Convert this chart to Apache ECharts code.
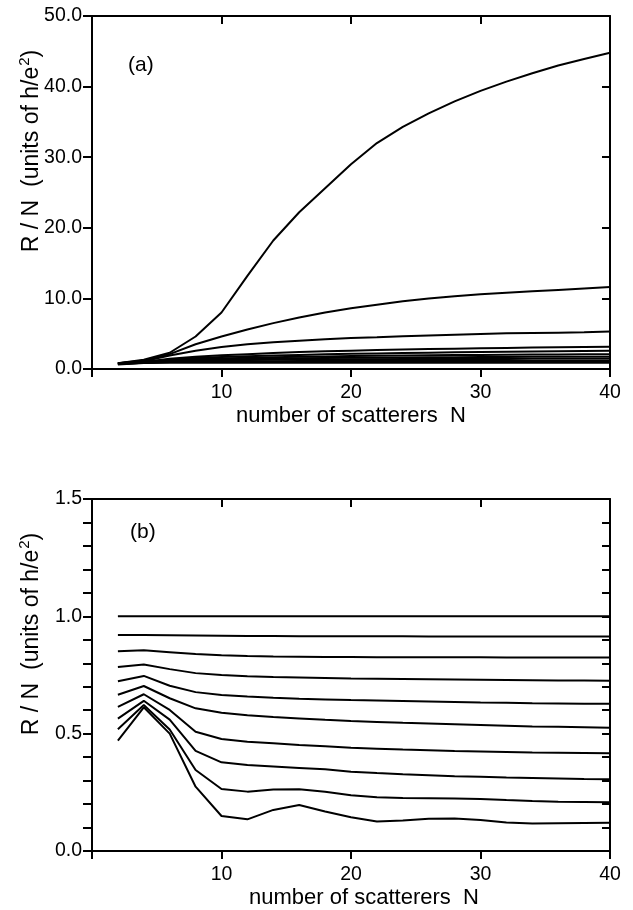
<!DOCTYPE html>
<html>
<head>
<meta charset="utf-8">
<script src="https://cdn.jsdelivr.net/npm/echarts@6/dist/echarts.min.js"></script>
<style>
  html, body { margin: 0; padding: 0; background: #fff; }
  #chart { width: 633px; height: 910px; }
</style>
</head>
<body>
<div id="chart"></div>
<script>
// number of scatterers N (both panels)
const nValues = [2, 4, 6, 8, 10, 12, 14, 16, 18, 20, 22, 24, 26, 28, 30, 32, 34, 36, 38, 40]
const xTicks = [10, 20, 30, 40]

// panel (a): R/N in units of h/e^2
const topCurves = [
  [0.8, 1.3, 2.3, 4.6, 8.0, 13.2, 18.2, 22.2, 25.6, 29.0, 32.0, 34.3, 36.2, 37.9, 39.4, 40.7, 41.9, 43.0, 43.9, 44.8],
  [0.8, 1.2, 2.1, 3.5, 4.6, 5.6, 6.5, 7.3, 8.0, 8.6, 9.1, 9.6, 10.0, 10.3, 10.6, 10.8, 11.0, 11.2, 11.4, 11.6],
  [0.8, 1.1, 1.9, 2.6, 3.1, 3.5, 3.8, 4.0, 4.2, 4.4, 4.5, 4.65, 4.75, 4.85, 4.95, 5.05, 5.1, 5.15, 5.2, 5.3],
  [0.8, 1.0, 1.45, 1.75, 1.95, 2.1, 2.25, 2.4, 2.5, 2.6, 2.68, 2.75, 2.82, 2.88, 2.94, 2.99, 3.04, 3.08, 3.12, 3.15],
  [0.8, 1.0, 1.35, 1.55, 1.7, 1.82, 1.92, 2.0, 2.08, 2.15, 2.2, 2.26, 2.31, 2.36, 2.4, 2.44, 2.48, 2.52, 2.56, 2.6],
  [0.75, 0.95, 1.25, 1.4, 1.5, 1.6, 1.67, 1.73, 1.78, 1.83, 1.87, 1.9, 1.94, 1.97, 2.0, 2.03, 2.05, 2.07, 2.09, 2.1],
  [0.75, 0.95, 1.15, 1.27, 1.35, 1.42, 1.47, 1.52, 1.55, 1.58, 1.61, 1.63, 1.65, 1.67, 1.69, 1.7, 1.72, 1.73, 1.74, 1.75],
  [0.7, 0.9, 1.05, 1.15, 1.22, 1.27, 1.31, 1.34, 1.36, 1.38, 1.39, 1.4, 1.41, 1.42, 1.43, 1.43, 1.44, 1.44, 1.45, 1.45],
  [0.7, 0.88, 0.98, 1.04, 1.08, 1.1, 1.11, 1.12, 1.13, 1.13, 1.14, 1.14, 1.14, 1.15, 1.15, 1.15, 1.15, 1.15, 1.15, 1.15],
  [0.65, 0.85, 0.88, 0.89, 0.9, 0.9, 0.9, 0.9, 0.9, 0.9, 0.9, 0.9, 0.9, 0.9, 0.9, 0.9, 0.9, 0.9, 0.9, 0.9]
]

// panel (b)
const bottomCurves = [
  [1.0, 1.0, 1.0, 1.0, 1.0, 1.0, 1.0, 1.0, 1.0, 1.0, 1.0, 1.0, 1.0, 1.0, 1.0, 1.0, 1.0, 1.0, 1.0, 1.0],
  [0.92, 0.92, 0.919, 0.918, 0.917, 0.916, 0.916, 0.915, 0.915, 0.915, 0.915, 0.915, 0.914, 0.914, 0.914, 0.914, 0.914, 0.914, 0.914, 0.914],
  [0.851, 0.855, 0.847, 0.839, 0.834, 0.831, 0.829, 0.828, 0.827, 0.827, 0.826, 0.826, 0.826, 0.826, 0.826, 0.825, 0.825, 0.825, 0.825, 0.825],
  [0.784, 0.795, 0.775, 0.758, 0.75, 0.745, 0.741, 0.739, 0.737, 0.735, 0.734, 0.733, 0.732, 0.731, 0.73, 0.729, 0.728, 0.727, 0.727, 0.726],
  [0.723, 0.746, 0.704, 0.677, 0.665, 0.658, 0.653, 0.649, 0.646, 0.643, 0.641, 0.639, 0.637, 0.635, 0.633, 0.632, 0.63, 0.629, 0.628, 0.627],
  [0.666, 0.703, 0.651, 0.608, 0.589, 0.578, 0.571, 0.565, 0.559, 0.554, 0.55, 0.546, 0.543, 0.54, 0.537, 0.534, 0.531, 0.529, 0.527, 0.525],
  [0.614, 0.668, 0.601, 0.508, 0.477, 0.466, 0.459, 0.452, 0.446, 0.44, 0.436, 0.432, 0.429, 0.426, 0.424, 0.422, 0.42, 0.419, 0.418, 0.417],
  [0.564, 0.64, 0.56, 0.427, 0.378, 0.366, 0.36, 0.354, 0.348, 0.338, 0.332, 0.327, 0.323, 0.319, 0.316, 0.313, 0.311, 0.309, 0.307, 0.306],
  [0.519, 0.622, 0.518, 0.345, 0.264, 0.253, 0.262, 0.263, 0.252, 0.238, 0.229, 0.226, 0.225, 0.224, 0.222, 0.217, 0.213, 0.21, 0.209, 0.208],
  [0.47, 0.612, 0.5, 0.274, 0.149, 0.135, 0.175, 0.196, 0.168, 0.144, 0.126, 0.13, 0.137, 0.138, 0.132, 0.121, 0.117, 0.118, 0.119, 0.12]
]

const FONT = '"Liberation Sans", Arial, Helvetica, sans-serif'
const chart = echarts.init(document.getElementById('chart'))

const frameLine = { show: true, onZero: false, lineStyle: { color: '#000', width: 2 } }
const tickStyle = { color: '#000', width: 2 }

// bottom x axis with labels + top x axis with inner ticks only
const xAxisPair = (grid, padLeft) => [
  {
    gridIndex: grid, type: 'value', position: 'bottom',
    min: 0, max: 40, interval: 10,
    axisLine: frameLine,
    axisTick: { show: true, inside: false, length: 8, lineStyle: tickStyle },
    axisLabel: {
      margin: 14, color: '#000', fontSize: 19.5, fontFamily: FONT,
      formatter: v => xTicks.includes(v) ? String(v) : ''
    },
    splitLine: { show: false },
    name: 'number of scatterers  N', nameLocation: 'middle', nameGap: 36,
    nameTextStyle: { color: '#000', fontSize: 22, fontFamily: FONT, padding: [0, 0, 0, padLeft] }
  },
  {
    gridIndex: grid, type: 'value', position: 'top',
    min: 0, max: 40, interval: 10,
    axisLine: frameLine,
    axisTick: { show: true, inside: true, length: 8, lineStyle: tickStyle },
    axisLabel: { show: false },
    splitLine: { show: false }
  }
]

const yAxisPair = (grid, max, interval, fmt) => [
  {
    gridIndex: grid, type: 'value', position: 'left',
    min: 0, max: max, interval: interval,
    axisLine: frameLine,
    axisTick: { show: true, inside: false, length: 9, lineStyle: tickStyle },
    axisLabel: { margin: 10, color: '#000', fontSize: 19.5, fontFamily: FONT, formatter: fmt },
    splitLine: { show: false }
  },
  {
    gridIndex: grid, type: 'value', position: 'right',
    min: 0, max: max, interval: interval,
    axisLine: frameLine,
    axisTick: { show: true, inside: true, length: 8, lineStyle: tickStyle },
    axisLabel: { show: false },
    splitLine: { show: false }
  }
]

const halfStep = v => Math.abs(v * 2 - Math.round(v * 2)) < 1e-6 ? v.toFixed(1) : ''

const makeSeries = (curves, xi, yi) => curves.map(vals => ({
  type: 'line',
  xAxisIndex: xi, yAxisIndex: yi,
  data: nValues.map((n, i) => [n, vals[i]]),
  symbol: 'none',
  smooth: false,
  lineStyle: { color: '#000', width: 2 },
  silent: true
}))

const yTitle = (cy) => ({
  type: 'text', x: 32, y: cy, rotation: Math.PI / 2,
  style: {
    text: '{a|R / N  (units of h/e}{s|2}{a|)}',
    fill: '#000', align: 'center', verticalAlign: 'middle',
    rich: {
      a: { fontSize: 23, fontFamily: FONT, lineHeight: 30, fill: '#000' },
      s: { fontSize: 15, fontFamily: FONT, verticalAlign: 'top', lineHeight: 16, padding: [0, 0, 0, 1], fill: '#000' }
    }
  }
})

const option = {
  animation: false,
  backgroundColor: '#fff',
  grid: [
    { left: 92, top: 16, width: 518, height: 353, outerBoundsMode: 'none' },
    { left: 92, top: 499, width: 518, height: 352, outerBoundsMode: 'none' }
  ],
  xAxis: [...xAxisPair(0, 0), ...xAxisPair(1, 26)],
  yAxis: [
    ...yAxisPair(0, 50, 10, v => v.toFixed(1)),
    ...yAxisPair(1, 1.5, 0.1, halfStep)
  ],
  graphic: [
    yTitle(151),
    yTitle(634),
    { type: 'text', x: 128, y: 65, style: { text: '(a)', fill: '#000', font: '21px ' + FONT, verticalAlign: 'middle' } },
    { type: 'text', x: 130, y: 532, style: { text: '(b)', fill: '#000', font: '21px ' + FONT, verticalAlign: 'middle' } }
  ],
  series: [...makeSeries(topCurves, 0, 0), ...makeSeries(bottomCurves, 2, 2)]
}

chart.setOption(option)
</script>
</body>
</html>
